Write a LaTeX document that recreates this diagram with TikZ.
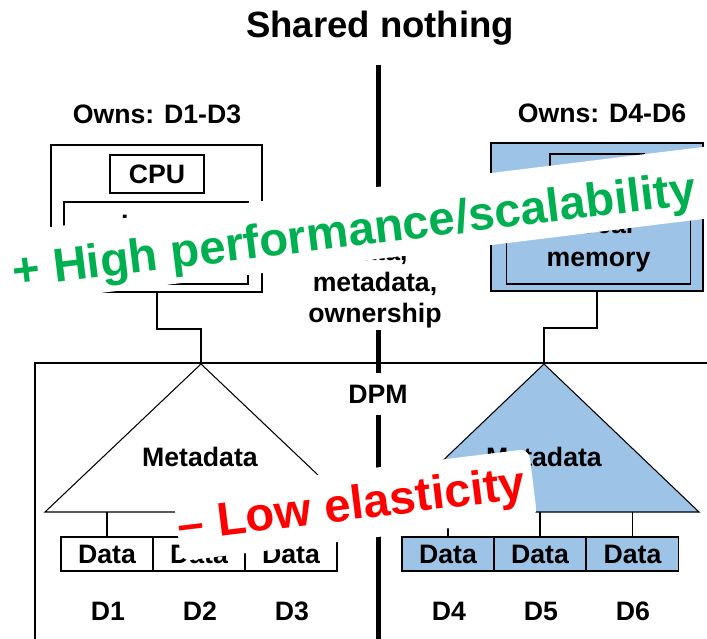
\documentclass[tikz,border=0pt]{standalone}
\usepackage{fontspec}
\setmainfont{Liberation Sans}
\definecolor{boxblue}{RGB}{157,195,230}
\definecolor{goodgreen}{RGB}{0,176,80}
\definecolor{badred}{RGB}{255,0,0}

\begin{document}
\begin{tikzpicture}[x=0.75pt,y=-0.75pt,
  txt/.style={font=\bfseries\fontsize{20}{24}\selectfont, inner sep=0pt},
  outerbox/.style={draw, line width=1.5pt, minimum width=158.5pt, minimum height=110.5pt, inner sep=0pt},
  cpubox/.style={draw, line width=1.5pt, minimum width=70.5pt, minimum height=28.5pt, inner sep=0pt, txt},
  membox/.style={draw, line width=1.1pt, minimum width=138pt, minimum height=61.5pt, inner sep=0pt, align=center,
                 font=\bfseries\fontsize{20}{24.5}\selectfont},
  databox/.style={draw, line width=1pt, minimum width=69pt, minimum height=25.5pt, inner sep=0pt, txt},
  wire/.style={line width=1.5pt},
  tri/.style={line width=0.8pt, line join=miter},
  banner/.style={fill=white, rounded corners=7pt, rotate=7, inner sep=0pt},
  bannertext/.style={font=\bfseries\fontsize{35.5}{40}\selectfont, rotate=7, anchor=base, inner sep=0pt}
]
\useasboundingbox (0,0) rectangle (707,639);
\clip (0,0) rectangle (707,639);

% title and the central divider
\node[font=\bfseries\fontsize{27.4}{32}\selectfont, anchor=base, inner sep=0pt] (title) at (380,37.5) {Shared nothing};
\draw[line width=3.75pt] (378,65) coordinate (divtop) -- (378,650) coordinate (divbot);

% shared DPM frame
\draw[line width=1.6pt] (35,363) coordinate (dpmtl) rectangle (715,650);
\node[txt, fill=white, minimum height=32pt, inner xsep=3pt] (dpm) at (378,394) {DPM};

% middle annotation over the divider
\node[font=\bfseries\fontsize{20}{23}\selectfont, align=center, fill=white, inner sep=1.5pt] (shared) at (375,285)
  {Data,\\metadata,\\ownership};

% left server
\node[txt, anchor=base] (lowns) at (157,123) {Owns: D1-D3};
\node[outerbox, fill=white] (lsrv) at (156.5,218.5) {};
\node[cpubox, fill=white] (lcpu) at (157,174) {CPU};
\node[membox, fill=white] (lmem) at (156,243) {Local\\memory};

% right server
\node[txt, anchor=base] (rowns) at (602,122) {Owns: D4-D6};
\node[outerbox, fill=boxblue] (rsrv) at (597,217) {};
\node[cpubox, fill=boxblue] (rcpu) at (597,173) {CPU};
\node[membox, fill=boxblue] (rmem) at (598.5,243) {Local\\memory};

% left metadata tree
\coordinate (lapex) at (201,364);
\coordinate (lbl) at (45,512);
\coordinate (lbr) at (357,512);
\draw[tri, fill=white] (lapex) -- (lbr) -- (lbl) -- cycle;
\node[txt] (lmeta) at (200,457) {Metadata};
\draw[wire] (lsrv.south) -- ++(0,36) -| (lapex);

\node[databox] (ld1) at (107,554) {Data};
\node[databox] (ld2) at (199,554) {Data};
\node[databox] (ld3) at (291,554) {Data};
\foreach \d in {ld1,ld2,ld3} \draw[wire, line width=1.2pt] (\d.north) -- (\d.north |- lbl);
\node[txt] (d1) at (108,611) {D1};
\node[txt] (d2) at (200,611) {D2};
\node[txt] (d3) at (292,611) {D3};

% right metadata tree
\coordinate (rapex) at (544,364);
\coordinate (rbl) at (389,512);
\coordinate (rbr) at (699,512);
\draw[tri, fill=boxblue] (rapex) -- (rbr) -- (rbl) -- cycle;
\node[txt] (rmeta) at (544,457) {Metadata};
\draw[wire] (rsrv.south) -- ++(0,36) -| (rapex);

\node[databox, fill=boxblue] (rd4) at (448,554) {Data};
\node[databox, fill=boxblue] (rd5) at (540,554) {Data};
\node[databox, fill=boxblue] (rd6) at (632.5,554) {Data};
\foreach \d in {rd4,rd5,rd6} \draw[wire, line width=1.2pt] (\d.north) -- (\d.north |- rbl);
\node[txt] (d4) at (449,611) {D4};
\node[txt] (d5) at (541,611) {D5};
\node[txt] (d6) at (633,611) {D6};

% verdict banners
\node[banner, minimum width=600pt, minimum height=53.6pt] (probanner) at (356,225.6) {};
\node[bannertext, text=goodgreen] (pro) at (356,246) {+ High performance/scalability};

\node[banner, minimum width=269pt, minimum height=51.75pt] (conbanner) at (355,505) {};
\node[bannertext, text=badred] (con) at (353.5,519.7) {– Low elasticity};
\end{tikzpicture}
\end{document}
